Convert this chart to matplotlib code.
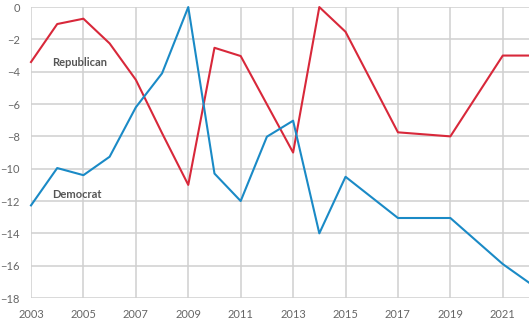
import matplotlib.pyplot as plt

# Net scores by year
rep_years = [2003, 2004, 2005, 2006, 2007, 2008, 2009, 2010, 2011, 2013,
             2014, 2015, 2017, 2019, 2021, 2022]
rep_values = [-3.4, -1.05, -0.72, -2.25, -4.5, -7.8, -11.0, -2.52, -3.03, -9.0,
              0.0, -1.53, -7.75, -8.0, -3.0, -3.0]

dem_years = [2003, 2004, 2005, 2006, 2007, 2008, 2009, 2010, 2011, 2012,
             2013, 2014, 2015, 2017, 2019, 2021, 2022]
dem_values = [-12.27, -9.96, -10.4, -9.26, -6.2, -4.1, 0.0, -10.3, -12.0, -8.02,
              -7.03, -14.0, -10.5, -13.05, -13.05, -15.9, -17.05]

x_ticks = list(range(2003, 2022, 2))
y_ticks = list(range(-18, 1, 2))

plt.rcParams['font.family'] = ['Lato', 'DejaVu Sans']

fig = plt.figure(figsize=(5.29, 3.24), dpi=100)
ax = fig.add_axes([0.0586, 0.0802, 0.9414, 0.898])

red = '#d8283a'
blue = '#1a8ac6'
ax.plot(rep_years, rep_values, color=red, lw=1.5, clip_on=False, zorder=3)
ax.plot(dem_years, dem_values, color=blue, lw=1.5, clip_on=False, zorder=3)

ax.set_xlim(2003, 2022)
ax.set_ylim(-18, 0)
ax.set_xticks(x_ticks)
ax.set_yticks(y_ticks)
ax.set_yticklabels(['0' if v == 0 else f'\u2212{-v}' for v in y_ticks])
ax.grid(True, color='#d0d0d0', lw=1.1)
for s in ax.spines.values():
    s.set_visible(False)
ax.tick_params(length=0, labelsize=8, colors='#666666')
ax.tick_params(axis='x', pad=8)
ax.tick_params(axis='y', pad=8)

ax.text(2003.8, -3.45, 'Republican', fontsize=8, fontweight='bold', color='#555555',
        va='center', ha='left')
ax.text(2003.8, -11.6, 'Democrat', fontsize=8, fontweight='bold', color='#555555',
        va='center', ha='left')

fig.savefig('out.png', dpi=100)
